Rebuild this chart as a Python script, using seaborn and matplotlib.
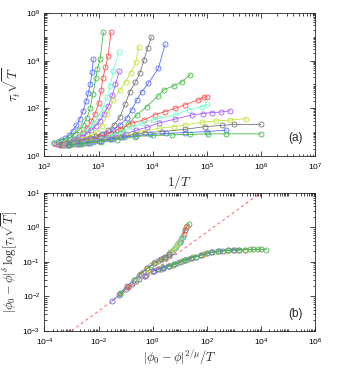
import numpy as np
import pandas as pd
import seaborn as sns
import matplotlib
matplotlib.use("Agg")
import matplotlib.pyplot as plt
from matplotlib.ticker import LogLocator, NullFormatter, LogFormatterSciNotation

# ---------------- data: panel (a) ----------------
colors = ["#5a6eff", "#46be46", "#ff5050", "#6effc8", "#aa5aff", "#bee63c", "#787878",
          "#5a6eff", "#46be46", "#ff5050", "#6effc8", "#aa5aff", "#bee63c", "#787878",
          "#5a6eff", "#46be46"]

top_x = [
    [150, 175, 205, 240, 285, 330, 390, 450, 520, 590, 650, 700, 760, 800],
    [150, 175, 210, 250, 300, 360, 430, 520, 610, 700, 780, 890, 950, 1070, 1230],
    [165, 195, 235, 285, 345, 420, 510, 610, 730, 860, 1000, 1120, 1200, 1340, 1500, 1700],
    [170, 210, 260, 320, 390, 470, 570, 690, 830, 1000, 1200, 1450, 1650, 1860, 2360],
    [180, 220, 270, 330, 400, 490, 600, 730, 880, 1050, 1250, 1500, 1800, 2050, 2400],
    [190, 240, 300, 380, 480, 600, 760, 950, 1150, 1450, 1870, 2500, 3150, 3900, 4900, 5500],
    [200, 260, 330, 420, 540, 700, 900, 1150, 1500, 1950, 2500, 3100, 3800, 4800, 5800, 6900, 8100, 9500],
    [200, 270, 350, 460, 600, 800, 1050, 1400, 1850, 2500, 3300, 4100, 5100, 6300, 8300, 12700, 17000],
    [220, 320, 460, 650, 950, 1400, 2000, 2700, 3500, 5100, 7800, 12600, 16000, 25000, 35000, 50000],
    [230, 330, 480, 700, 1000, 1500, 2500, 4100, 6800, 11000, 17000, 26000, 40000, 69000, 87000, 100000],
    [240, 350, 500, 750, 1100, 1700, 2700, 4200, 6300, 10000, 13000, 26000, 46000, 81000, 100000],
    [250, 380, 560, 850, 1300, 2000, 3200, 5000, 8000, 13000, 26000, 54000, 85000, 125000, 180000, 270000],
    [260, 400, 620, 1000, 1600, 2500, 3500, 6000, 13000, 25000, 40000, 80000, 150000, 270000, 540000],
    [270, 420, 650, 1000, 1600, 2600, 4800, 7300, 15000, 40000, 93000, 190000, 320000, 1000000],
    [280, 450, 700, 1100, 1800, 3000, 5000, 9000, 18000, 40000, 100000, 230000],
    [300, 500, 800, 1100, 2200, 4800, 10000, 23000, 50000, 107000, 230000, 1000000],
]
top_y = [
    [3.6, 3.9, 4.5, 5.5, 7.5, 11, 19, 35, 80, 200, 450, 1000, 3400, 12000],
    [3.4, 3.7, 4.1, 4.8, 6, 8, 12, 20, 40, 100, 380, 1800, 4400, 12000, 160000],
    [3.2, 3.0, 3.3, 3.9, 4.9, 6.5, 9.5, 15, 28, 60, 160, 600, 1800, 5300, 16000, 160000],
    [3.4, 3.6, 4.0, 4.7, 5.8, 7.5, 10, 15, 25, 45, 100, 300, 900, 3600, 23000],
    [3.3, 3.5, 3.9, 4.5, 5.3, 6.5, 8.5, 12, 18, 30, 55, 120, 350, 1000, 3500],
    [3.2, 3.4, 3.7, 4.2, 4.9, 5.8, 7.2, 10, 18, 55, 225, 590, 1300, 3000, 9100, 38000],
    [3.3, 3.5, 3.8, 4.2, 4.8, 5.6, 6.8, 8.5, 12, 20, 45, 150, 500, 1250, 3000, 10700, 35000, 98000],
    [3.0, 3.2, 3.5, 3.9, 4.5, 5.3, 6.5, 8.5, 12, 20, 38, 85, 225, 490, 1130, 4700, 48000],
    [3.0, 3.2, 3.6, 4.2, 5.0, 6.2, 8, 12, 22, 53, 118, 330, 590, 900, 1300, 2600],
    [3.0, 3.3, 3.8, 4.6, 6, 8.5, 14, 24, 32, 53, 73, 100, 140, 225, 290, 310],
    [3.0, 3.2, 3.6, 4.3, 5.3, 7, 10, 16, 24, 32, 38, 53, 85, 118, 145],
    [3.0, 3.2, 3.6, 4.2, 5.0, 6.3, 8.5, 12, 16, 24, 35, 53, 60, 66, 69, 78],
    [3.0, 3.3, 3.7, 4.4, 5.3, 6.5, 7.5, 10, 14.5, 17, 20, 26, 29, 32, 37],
    [3.0, 3.2, 3.6, 4.2, 5.0, 6.2, 8, 9.5, 10.5, 13, 17, 19, 21, 21],
    [2.9, 3.2, 3.6, 4.2, 5.0, 6.0, 7.0, 8.0, 8.7, 9.5, 10.5, 12],
    [2.8, 3.2, 3.7, 4.0, 4.8, 6.5, 7.2, 7.6, 8.0, 8.4, 8.4, 8.4],
]

# ---------------- data: panel (b) ----------------
bot_x = [
    [2.95, 3.98, 5.01, 6.31, 7.94, 10, 12.6, 15.8],
    [2.57, 3.55, 5.01, 7.08, 10, 13.2, 15.8, 18.6, 21.4],
    [1.58, 2.24, 3.16, 4.47, 6.31, 8.91, 11.2, 14.1, 17.8],
    [0.794, 1.12, 1.58, 2.24, 3.16, 4.47, 6.31, 8.91, 12.6],
    [0.316, 0.447, 0.631, 0.891, 1.26, 1.78, 2.51, 3.55, 5.01],
    [0.219, 0.347, 0.55, 0.871, 1.38, 2.19, 3.47, 5.25, 7.94],
    [0.0631, 0.112, 0.2, 0.355, 0.631, 1.12, 2.0, 2.82, 3.98],
    [0.0316, 0.0562, 0.1, 0.178, 0.316, 0.562, 1.0, 1.58, 2.51, 3.55],
    [0.0631, 0.126, 0.251, 0.501, 1.0, 2.0, 3.98, 7.94, 12.6, 20],
    [0.126, 0.251, 0.501, 1, 2, 3.98, 7.94, 15.8, 31.6, 79.4],
    [0.251, 0.501, 1, 2, 3.98, 7.94, 15.8, 31.6, 63.1, 158],
    [0.501, 1.12, 2.51, 5.62, 12.6, 28.2, 63.1, 141, 316, 912],
    [0.794, 2, 5.01, 12.6, 31.6, 79.4, 200, 501, 1260, 2880],
    [1.58, 3.98, 10, 25.1, 63.1, 158, 398, 1000, 2510, 5010, 10000],
    [1, 2.51, 6.31, 15.8, 39.8, 100, 251, 631, 1580],
    [2.4, 6.31, 15.8, 39.8, 100, 251, 631, 1580, 3980, 7940, 15800],
]
bot_y = [
    [0.138, 0.162, 0.195, 0.240, 0.302, 0.380, 0.513, 0.851],
    [0.132, 0.148, 0.195, 0.275, 0.38, 0.537, 0.851, 1.05, 1.26],
    [0.105, 0.123, 0.141, 0.186, 0.24, 0.339, 0.468, 0.631, 1.0],
    [0.0724, 0.0891, 0.105, 0.123, 0.141, 0.186, 0.24, 0.339, 0.513],
    [0.0417, 0.0513, 0.0646, 0.0794, 0.0955, 0.110, 0.129, 0.148, 0.195],
    [0.0316, 0.0437, 0.0617, 0.0794, 0.1, 0.12, 0.145, 0.204, 0.302],
    [0.0126, 0.0195, 0.0295, 0.0447, 0.0646, 0.0891, 0.117, 0.135, 0.162],
    [0.00724, 0.0107, 0.0158, 0.0224, 0.0316, 0.0417, 0.0537, 0.0603, 0.0676, 0.0741],
    [0.0115, 0.0182, 0.0275, 0.0389, 0.0537, 0.0631, 0.0741, 0.0891, 0.102, 0.117],
    [0.0182, 0.0275, 0.0389, 0.0537, 0.0631, 0.0741, 0.0891, 0.110, 0.135, 0.166],
    [0.0275, 0.0389, 0.0537, 0.0631, 0.0741, 0.0891, 0.110, 0.135, 0.158, 0.186],
    [0.0389, 0.055, 0.0676, 0.0813, 0.105, 0.132, 0.158, 0.186, 0.204, 0.219],
    [0.049, 0.0631, 0.0794, 0.105, 0.135, 0.166, 0.195, 0.209, 0.219, 0.224],
    [0.0603, 0.0741, 0.0955, 0.129, 0.158, 0.186, 0.209, 0.219, 0.224, 0.226, 0.229],
    [0.0537, 0.0676, 0.0871, 0.110, 0.141, 0.178, 0.2, 0.214, 0.219],
    [0.0692, 0.0871, 0.110, 0.141, 0.178, 0.2, 0.214, 0.219, 0.226, 0.229, 0.224],
]
dash_x = [1e-3, 1e4]
dash_y = [1e-3, 1e1]

# ---------------- figure ----------------
sns.set_style("ticks")
plt.rcParams["font.family"] = ["Liberation Sans", "DejaVu Sans"]
plt.rcParams["axes.linewidth"] = 0.6

fig = plt.figure(figsize=(3.42, 3.72), dpi=100)
ax1 = fig.add_axes([0.130, 0.581, 0.791, 0.384])
ax2 = fig.add_axes([0.130, 0.111, 0.791, 0.371])


def draw(ax, xs, ys):
    for i, (xv, yv) in enumerate(zip(xs, ys)):
        df = pd.DataFrame({"x": xv, "y": yv})
        sns.lineplot(data=df, x="x", y="y", ax=ax, color=colors[i], sort=False,
                     estimator=None, lw=0.6, marker="o", markersize=3.6,
                     markerfacecolor="none", markeredgecolor=colors[i],
                     markeredgewidth=0.6, legend=False)


def style(ax, xlim, ylim, xmajor_every, ymajor_every):
    ax.set_xscale("log")
    ax.set_yscale("log")
    ax.set_xlim(*xlim)
    ax.set_ylim(*ylim)
    lo, hi = int(np.log10(xlim[0])), int(np.log10(xlim[1]))
    ax.set_xticks([10.0 ** k for k in range(lo, hi + 1, xmajor_every)])
    lo, hi = int(np.log10(ylim[0])), int(np.log10(ylim[1]))
    ax.set_yticks([10.0 ** k for k in range(lo, hi + 1, ymajor_every)])
    ax.xaxis.set_major_formatter(LogFormatterSciNotation())
    ax.yaxis.set_major_formatter(LogFormatterSciNotation())
    ax.xaxis.set_minor_locator(LogLocator(base=10, subs=np.arange(1, 10), numticks=100))
    ax.yaxis.set_minor_locator(LogLocator(base=10, subs=np.arange(1, 10), numticks=100))
    ax.xaxis.set_minor_formatter(NullFormatter())
    ax.yaxis.set_minor_formatter(NullFormatter())
    ax.tick_params(which="both", direction="in", top=True, right=True,
                   labelsize=6, width=0.5, colors="black")
    ax.tick_params(which="major", length=3.5)
    ax.tick_params(which="minor", length=1.8)
    ax.tick_params(axis="x", which="major", pad=4)
    ax.tick_params(axis="y", which="major", pad=3)
    for s in ax.spines.values():
        s.set_visible(True)
        s.set_linewidth(0.6)


draw(ax1, top_x, top_y)
style(ax1, (1e2, 1e7), (1e0, 1e6), 1, 2)
ax1.set_xlabel(r"$1/T$", fontsize=9.5, math_fontfamily="cm", labelpad=0)
ax1.set_ylabel(r"$\tau_t\sqrt{T}$", fontsize=9.5, math_fontfamily="cm", labelpad=2)
ax1.text(0.955, 0.08, "(a)", transform=ax1.transAxes, ha="right", va="bottom", fontsize=8.5)

draw(ax2, bot_x, bot_y)
ax2.plot(dash_x, dash_y, ls=(0, (3, 3)), color="#ff6060", lw=0.7)
style(ax2, (1e-4, 1e6), (1e-3, 1e1), 2, 1)
ax2.set_xlabel(r"$|\phi_0-\phi|^{2/\mu}/T$", fontsize=9, math_fontfamily="cm", labelpad=0)
ax2.set_ylabel(r"$|\phi_0-\phi|^{\delta}\,\log[\tau_t\sqrt{T}]$", fontsize=9,
               math_fontfamily="cm", labelpad=2)
ax2.text(0.955, 0.08, "(b)", transform=ax2.transAxes, ha="right", va="bottom", fontsize=8.5)

fig.savefig("out.png", dpi=100)
